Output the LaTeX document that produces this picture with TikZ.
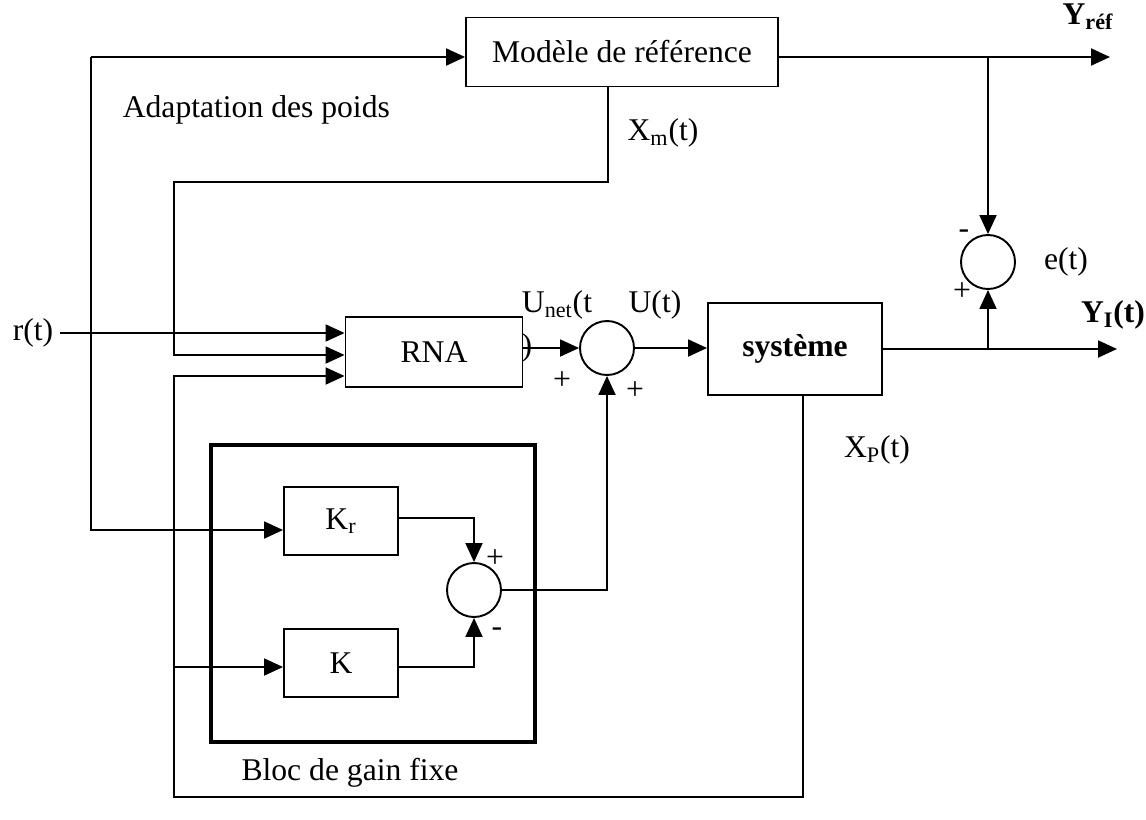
\documentclass[tikz,border=0pt]{standalone}
\usepackage{fontspec}
\setmainfont{Liberation Serif}
\usetikzlibrary{arrows.meta,positioning}

\begin{document}
\begin{tikzpicture}[
    x=0.02cm, y=-0.02cm,
    font=\fontsize{18}{21}\selectfont,
    line width=1.1pt,
    >={Triangle[length=0.38cm, width=0.34cm]},
    bloc/.style={rectangle, draw, line width=1.1pt, inner sep=0pt},
    somme/.style={circle, draw, line width=1.1pt, minimum size=1.08cm, inner sep=0pt},
    signe/.style={inner sep=0pt, font=\fontsize{18}{21}\selectfont}
]
\useasboundingbox (0,0) rectangle (1146,819);

% blocs
\node[bloc, minimum width=6.24cm, minimum height=1.38cm] (model) at (622,52) {Modèle de référence};
\node[bloc, minimum width=3.54cm, minimum height=1.4cm] (rna) at (434,352) {RNA};
\node[bloc, minimum width=3.48cm, minimum height=1.84cm] (sys) at (795,349) {\textbf{système}};
\node[bloc, minimum width=2.28cm, minimum height=1.36cm] (kr) at (341,521) {K\textsubscript{r}};
\node[bloc, minimum width=2.28cm, minimum height=1.36cm] (k) at (341,663) {K};
\draw[line width=2.4pt] (211,445) rectangle (535,742);

% sommateurs
\node[somme] (sum) at (607,348) {};
\node[somme] (err) at (988,262) {};
\node[somme] (sumk) at (474,590) {};

% points de passage
\coordinate (rin) at (60,333);
\coordinate (adapt) at (91,57);
\coordinate (yref) at (1110,57);
\coordinate (yout) at (1117,349);
\coordinate (jref) at (988,57);
\coordinate (jout) at (988,349);

% liaisons
\node[anchor=east] (r) at (rin) {r(t)};
\draw[->] (rin) -- (rna.west |- rin);
\draw[->] (adapt) -- (model.west |- adapt);
\draw[->] (adapt) -- (91,530) -- (kr.west |- 0,530);
\draw[->] (model.east |- yref) -- (yref);
\draw[->] (jref) -- (err.north);
\draw[->] (model.south -| 608,0) -- (608,182) -- (174,182) -- (174,355) -- (rna.west |- 0,355);
\draw[->] (sys.south -| 803,0) -- (803,797) -- (174,797) -- (174,376) -- (rna.west |- 0,376);
\draw[->] (174,667) -- (k.west |- 0,667);
\draw[->] (rna.east |- sum) -- (sum.west);
\draw[->] (sum.east) -- (sys.west |- sum);
\draw[->] (sys.east |- yout) -- (yout);
\draw[->] (jout) -- (err.south);
\draw[->] (kr.east |- 0,518) -- (474,518) -- (sumk.north);
\draw[->] (k.east |- 0,667) -- (474,667) -- (sumk.south);
\draw[->] (sumk.east) -- (sum.south |- sumk) -- (sum.south);

% textes
\node[anchor=west] (adapttxt) at (116,110) {Adaptation des poids};
\node (xm) at (663,133) {X\textsubscript{m}(t)};
\node (unet) at (557,305) {U\textsubscript{net}(t};
\node[signe] (par) at (527,348) {)};
\node (u) at (655,305) {U(t)};
\node[signe] (p1) at (562,381) {+};
\node[signe] (p2) at (635,391) {+};
\node (yreftxt) at (1088,17) {\textbf{Y\textsubscript{réf}}};
\node (youttxt) at (1113,315) {\textbf{Y\textsubscript{I}(t)}};
\node[signe] (m1) at (964,234) {-};
\node[signe] (p3) at (962,292) {+};
\node (e) at (1066,262) {e(t)};
\node (xp) at (877,450) {X\textsubscript{P}(t)};
\node[signe] (p4) at (495,559) {+};
\node[signe] (m2) at (497,632) {-};
\node (gain) at (350,773) {Bloc de gain fixe};
\end{tikzpicture}
\end{document}
